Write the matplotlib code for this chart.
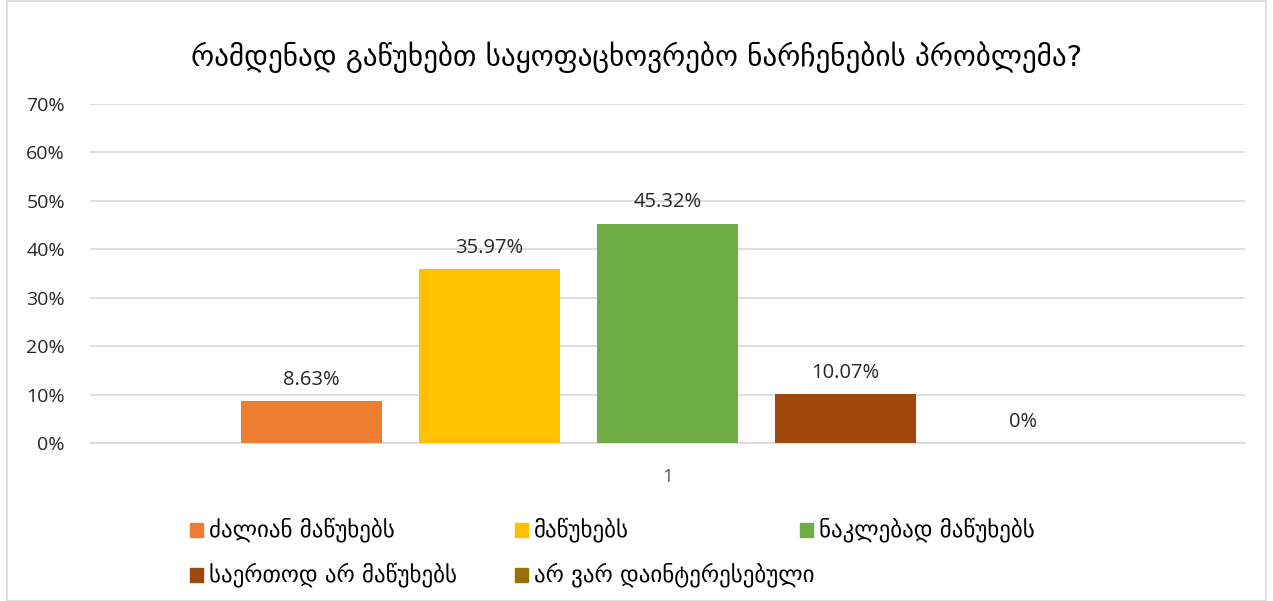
import matplotlib.pyplot as plt
from matplotlib.patches import Rectangle

title = 'რამდენად გაწუხებთ საყოფაცხოვრებო ნარჩენების პრობლემა?'
categories = ['ძალიან მაწუხებს', 'მაწუხებს', 'ნაკლებად მაწუხებს',
              'საერთოდ არ მაწუხებს', 'არ ვარ დაინტერესებული']
values = [8.63, 35.97, 45.32, 10.07, 0.0]
labels = ['8.63%', '35.97%', '45.32%', '10.07%', '0%']
colors = ['#ED7D31', '#FFC000', '#70AD47', '#9E480E', '#997300']
yticks = [0, 10, 20, 30, 40, 50, 60, 70]

plt.rcParams['font.family'] = ['Open Sans', 'DejaVu Sans']
W, H = 1273, 601
fig = plt.figure(figsize=(W / 100, H / 100), dpi=100)
ax = fig.add_axes([90 / W, 1 - 443 / H, (1245 - 90) / W, (443 - 104) / H])

x = list(range(len(values)))
ax.bar(x, values, width=0.79, color=colors, zorder=3)
for xi, v, lab in zip(x, values, labels):
    ax.annotate(lab, (xi, v), xytext=(0, 8), textcoords='offset points',
                ha='center', va='bottom', fontsize=14.5, color='#262626')

ax.set_xlim(-1.244, 5.244)
ax.set_ylim(0, 70)
ax.set_yticks(yticks)
ax.set_yticklabels([f'{t}%' for t in yticks], fontsize=14, color='#262626')
ax.set_xticks([2])
ax.set_xticklabels(['1'], fontsize=13.5, color='#595959')
ax.tick_params(axis='y', length=0, pad=18)
ax.tick_params(axis='x', length=0, pad=18)
ax.yaxis.grid(True, color='#D9D9D9', lw=1.2, zorder=0)
for s in ['top', 'right', 'left']:
    ax.spines[s].set_visible(False)
ax.spines['bottom'].set_color('#D9D9D9')
ax.spines['bottom'].set_linewidth(1.2)

fig.text(0.5, 1 - 57 / H, title, ha='center', va='center', fontsize=21,
         family='DejaVu Sans', color='#000000')

# legend, Excel-style equal columns
col_x = [190, 515, 800]
row_y = [530, 575]
for i, (name, c) in enumerate(zip(categories, colors)):
    px = col_x[i % 3]
    py = row_y[i // 3]
    fig.patches.append(Rectangle((px / W, 1 - (py + 7) / H), 13 / W, 14 / H,
                                 transform=fig.transFigure, color=c))
    fig.text((px + 19) / W, 1 - py / H, name, ha='left', va='center',
             fontsize=16.5, family='DejaVu Sans', color='#000000')

fig.patches.append(Rectangle((7 / W, 0), (W - 14) / W, 1 - 1 / H, transform=fig.transFigure,
                             fill=False, edgecolor='#D9D9D9', lw=1.2))

fig.savefig('out.png', dpi=100)
